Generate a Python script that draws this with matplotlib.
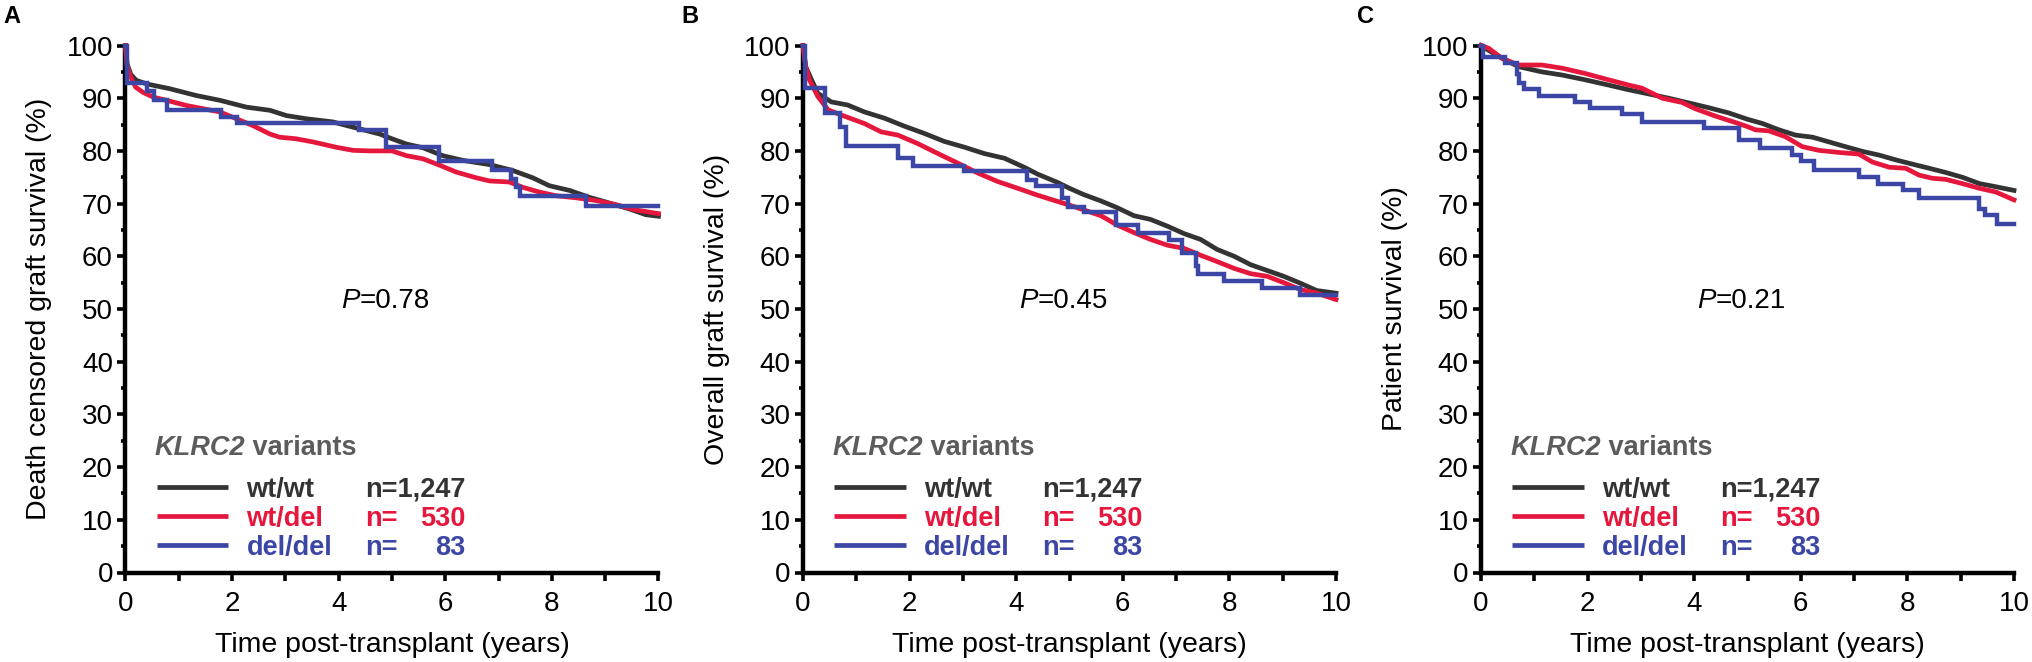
import matplotlib
matplotlib.use("Agg")
import matplotlib.pyplot as plt

plt.rcParams['font.family'] = ['Liberation Sans', 'DejaVu Sans']

# ---------------- data ----------------
panel_letters = ["A", "B", "C"]
y_labels = ["Death censored graft survival (%)", "Overall graft survival (%)", "Patient survival (%)"]
p_values = ["0.78", "0.45", "0.21"]
group_names = ["wt/wt", "wt/del", "del/del"]
group_n = ["1,247", "530", "83"]
x_ticks = [0, 2, 4, 6, 8, 10]
y_ticks = [0, 10, 20, 30, 40, 50, 60, 70, 80, 90, 100]

# Panel A  (death censored graft survival)
a_wt_t = [0, 0.03, 0.1, 0.2, 0.4, 0.83, 1.33, 1.77, 2.27, 2.71, 3.02, 3.39, 3.89, 4.27, 4.77, 5.0,
          5.27, 5.58, 5.95, 6.33, 6.83, 7.26, 7.64, 7.95, 8.33, 8.70, 9.08, 9.45, 9.76, 10.0]
a_wt_v = [100, 96.5, 94.5, 93.4, 92.7, 91.8, 90.5, 89.6, 88.3, 87.7, 86.7, 86.1, 85.5, 84.5, 83.2, 82.3,
          81.3, 80.6, 79.1, 78.2, 77.4, 76.3, 74.9, 73.4, 72.5, 71.2, 70.1, 69.0, 67.9, 67.6]
a_het_t = [0, 0.03, 0.1, 0.19, 0.33, 0.52, 0.77, 1.15, 1.46, 1.77, 2.08, 2.39, 2.71, 2.89, 3.2, 3.52,
           3.95, 4.27, 4.6, 5.0, 5.27, 5.58, 5.89, 6.20, 6.58, 6.83, 7.2, 7.45, 7.76, 8.07, 8.45, 8.82,
           9.20, 9.57, 10.0]
a_het_v = [100, 96, 94, 92.1, 91.1, 90.2, 89.6, 88.6, 88.0, 87.4, 86.1, 84.8, 83.2, 82.6, 82.3, 81.7,
           80.7, 80.1, 80.0, 80.0, 79.1, 78.5, 77.3, 76.0, 74.9, 74.3, 74.1, 73.1, 72.2, 71.5, 71.1, 70.6,
           69.8, 68.8, 68.1]
a_del_t = [0, 0.02, 0.40, 0.53, 0.78, 1.79, 2.10, 4.39, 4.88, 5.89, 6.87, 7.23, 7.33, 7.40, 8.64, 10.0]
a_del_v = [100, 92.9, 91.3, 89.6, 87.8, 86.5, 85.2, 84.0, 80.8, 78.0, 76.4, 74.7, 73.1, 71.4, 69.5, 69.5]

# Panel B  (overall graft survival)
b_wt_t = [0, 0.05, 0.16, 0.28, 0.53, 0.84, 1.15, 1.53, 1.90, 2.28, 2.65, 3.03, 3.40, 3.78, 4.15, 4.40,
          4.78, 5.0, 5.27, 5.59, 5.90, 6.21, 6.52, 6.84, 7.15, 7.46, 7.77, 8.09, 8.40, 8.71, 9.02, 9.33,
          9.64, 10.0]
b_wt_v = [100, 96, 93.5, 90.9, 89.3, 88.7, 87.4, 86.2, 84.7, 83.3, 81.8, 80.7, 79.5, 78.6, 76.9, 75.6,
          74.0, 72.9, 71.7, 70.5, 69.2, 67.7, 67.0, 65.7, 64.3, 63.2, 61.3, 60.0, 58.4, 57.3, 56.2, 54.9,
          53.5, 53.0]
b_het_t = [0, 0.05, 0.12, 0.28, 0.47, 0.72, 1.15, 1.47, 1.78, 2.15, 2.53, 2.90, 3.28, 3.65, 4.03, 4.40,
           4.78, 5.0, 5.27, 5.59, 5.90, 6.21, 6.52, 6.84, 7.15, 7.46, 7.77, 8.09, 8.40, 8.71, 9.02, 9.33,
           9.64, 10.0]
b_het_v = [100, 96, 93.5, 90.3, 87.8, 86.8, 85.2, 83.6, 83.0, 81.4, 79.5, 77.7, 75.8, 74.2, 72.9, 71.6,
           70.4, 69.7, 68.8, 67.7, 65.9, 64.5, 63.2, 62.1, 61.5, 60.2, 59.0, 57.7, 56.7, 56.2, 55.0, 53.7,
           53.0, 51.8]
b_del_t = [0, 0.03, 0.41, 0.69, 0.80, 1.78, 2.06, 3.03, 4.21, 4.37, 4.85, 4.98, 5.27, 5.87, 6.28, 6.87,
           7.12, 7.37, 7.42, 7.90, 8.62, 9.33, 10.0]
b_del_v = [100, 91.9, 87.1, 84.6, 80.9, 78.6, 77.1, 76.1, 74.5, 73.4, 71.0, 69.4, 68.5, 65.9, 64.5, 63.1,
           60.7, 58.2, 56.7, 55.4, 54.0, 52.7, 52.7]

# Panel C  (patient survival)
c_wt_t = [0, 0.14, 0.39, 0.70, 1.14, 1.52, 1.95, 2.39, 2.77, 3.15, 3.52, 3.90, 4.27, 4.65, 5.0, 5.28,
          5.59, 5.90, 6.22, 6.53, 6.84, 7.16, 7.47, 7.78, 8.09, 8.41, 8.72, 9.03, 9.35, 9.66, 10.0]
c_wt_v = [100, 99.1, 97.6, 96.0, 95.0, 94.4, 93.5, 92.5, 91.6, 90.8, 90.0, 89.1, 88.2, 87.2, 86.0, 85.2,
          84.0, 83.0, 82.6, 81.7, 80.8, 79.9, 79.2, 78.3, 77.5, 76.7, 75.9, 75.0, 73.8, 73.2, 72.5]
c_het_t = [0, 0.14, 0.39, 0.70, 1.14, 1.52, 1.95, 2.39, 2.77, 3.02, 3.40, 3.77, 4.02, 4.40, 4.77, 5.0,
           5.15, 5.40, 5.71, 6.03, 6.34, 6.72, 7.09, 7.34, 7.66, 7.97, 8.22, 8.47, 8.72, 9.03, 9.35, 9.66,
           10.0]
c_het_v = [100, 99.5, 97.6, 96.3, 96.3, 95.7, 94.7, 93.5, 92.5, 91.9, 90.0, 89.2, 88.0, 86.6, 85.4, 84.6,
           84.0, 83.8, 82.7, 80.8, 80.1, 79.7, 79.4, 77.9, 76.9, 76.7, 75.4, 74.8, 74.6, 73.8, 72.9, 72.2,
           70.7]
c_del_t = [0, 0.04, 0.45, 0.67, 0.72, 0.80, 1.08, 1.77, 2.05, 2.64, 3.02, 4.18, 4.84, 5.24, 5.84, 6.00,
           6.25, 7.09, 7.44, 7.91, 8.22, 9.35, 9.45, 9.69, 10.0]
c_del_v = [100, 97.9, 96.6, 94.5, 92.8, 91.7, 90.4, 89.3, 88.1, 87.0, 85.5, 84.3, 82.0, 80.5, 79.2, 78.0,
           76.4, 75.1, 73.7, 72.5, 71.0, 69.0, 67.8, 66.2, 66.2]

panels = [
    [(a_wt_t, a_wt_v), (a_het_t, a_het_v), (a_del_t, a_del_v)],
    [(b_wt_t, b_wt_v), (b_het_t, b_het_v), (b_del_t, b_del_v)],
    [(c_wt_t, c_wt_v), (c_het_t, c_het_v), (c_del_t, c_del_v)],
]

# ---------------- style ----------------
colors = ["#333333", "#E5173C", "#3C46A5"]
legend_title_color = "#5c5c5c"
W, H = 2033, 662
ax_lefts = [125.5, 803, 1481]
ax_w, ax_bottom, ax_h = 533, 89.5, 527
letter_x = [3, 681, 1357]
tick_fs, label_fs, leg_fs, p_fs = 20, 20.5, 19.5, 20

fig = plt.figure(figsize=(W / 100, H / 100), dpi=100)

for i in range(3):
    ax = fig.add_axes([ax_lefts[i] / W, ax_bottom / H, ax_w / W, ax_h / H])
    curves = panels[i]
    for j, (t, v) in enumerate(curves):
        ds = 'steps-post' if j == 2 else 'default'
        ax.plot(t, v, color=colors[j], lw=3.4 if j < 2 else 3.2, drawstyle=ds, clip_on=False,
                solid_joinstyle='miter', zorder=3 + j)

    ax.set_xlim(0, 10)
    ax.set_ylim(0, 100)
    for s in ['top', 'right']:
        ax.spines[s].set_visible(False)
    for s in ['left', 'bottom']:
        ax.spines[s].set_linewidth(3.2)
        ax.spines[s].set_color('black')
        ax.spines[s].set_capstyle('projecting')

    ax.set_xticks(x_ticks)
    ax.set_xticks([1, 3, 5, 7, 9], minor=True)
    ax.set_yticks(y_ticks)
    ax.set_yticks([5, 15, 25, 35, 45, 55, 65, 75, 85, 95], minor=True)
    ax.tick_params(axis='x', which='both', direction='out', length=5.5, width=2.6,
                   pad=8, labelsize=tick_fs)
    ax.tick_params(axis='y', which='major', direction='out', length=6, width=2.6,
                   pad=3, labelsize=tick_fs)
    ax.tick_params(axis='y', which='minor', direction='out', length=3, width=2.6)

    ax.text(-0.162, 0.5, y_labels[i], rotation=90, ha='center', va='center',
            fontsize=label_fs, transform=ax.transAxes)
    ax.text(0.5, -0.138, "Time post-transplant (years)", ha='center', va='center',
            fontsize=label_fs, transform=ax.transAxes)

    # P value
    tp = ax.text(4.05, 50.2, "P", style='italic', fontsize=p_fs, ha='left', va='baseline')
    ax.annotate("=" + p_values[i], xy=(1, 0), xycoords=tp, ha='left', va='bottom',
                fontsize=p_fs)

    # legend block
    tk = ax.text(0.55, 22.3, "KLRC2", style='italic', weight='bold', fontsize=leg_fs,
                 color=legend_title_color, ha='left', va='baseline')
    ax.annotate(" variants", xy=(1, 0), xycoords=tk, ha='left', va='bottom',
                weight='bold', fontsize=leg_fs, color=legend_title_color)
    row_y = [16.3, 10.8, 5.3]
    base_off = 1.9
    first_n = None
    for j in range(3):
        ax.plot([0.585, 1.93], [row_y[j], row_y[j]], color=colors[j], lw=3.4,
                solid_capstyle='butt', zorder=3)
        ax.text(2.27, row_y[j] - base_off, group_names[j], color=colors[j], weight='bold',
                fontsize=leg_fs, ha='left', va='baseline')
        if j == 0:
            first_n = ax.text(4.49, row_y[j] - base_off, "n=" + group_n[j], color=colors[j],
                              weight='bold', fontsize=leg_fs, ha='left', va='baseline')
        else:
            ax.text(4.49, row_y[j] - base_off, "n=", color=colors[j], weight='bold',
                    fontsize=leg_fs, ha='left', va='baseline')
            ax.annotate(group_n[j], xy=(1, row_y[j] - base_off), xycoords=(first_n, 'data'),
                        color=colors[j], weight='bold', fontsize=leg_fs,
                        ha='right', va='baseline')

    fig.text(letter_x[i] / W, 1 - 5 / H, panel_letters[i], weight='bold', fontsize=17,
             ha='left', va='top')

fig.savefig("out.png", dpi=100)
